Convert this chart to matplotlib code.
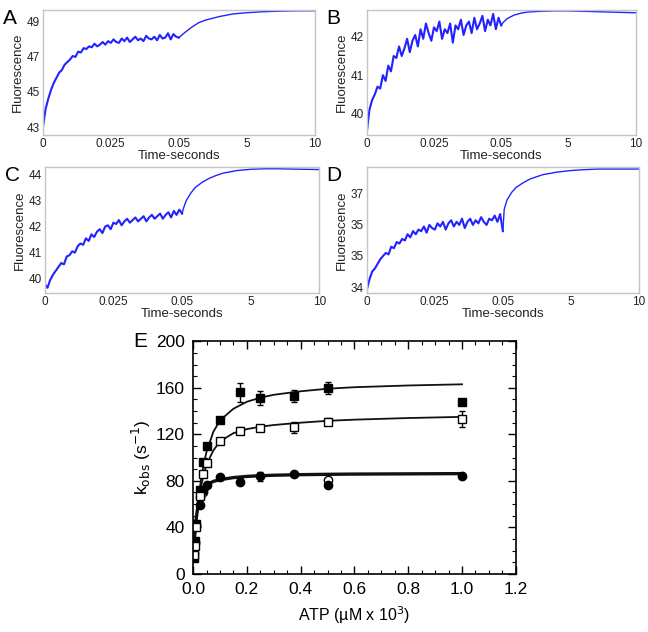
import numpy as np
import matplotlib
matplotlib.use("Agg")
import matplotlib.pyplot as plt
from matplotlib.ticker import MultipleLocator

plt.rcParams['font.family'] = ['Liberation Sans', 'DejaVu Sans']

## stopped-flow traces (fast phase 0-0.05 s, slow phase 0.05-10 s)
fast_A = [42.9, 44.0, 44.6, 45.1, 45.5, 45.8, 46.1, 46.25, 46.55, 46.7, 46.85, 47.05, 47.0, 47.3, 47.25, 47.5,
          47.45, 47.6, 47.55, 47.75, 47.6, 47.7, 47.85, 47.7, 47.9, 47.8, 48.0, 47.85, 47.8, 48.05, 47.9, 48.1,
          47.85, 48.0, 48.15, 47.95, 48.05, 47.9, 48.2, 48.05, 48.0, 48.15, 47.95, 48.25, 48.05, 48.1, 48.35,
          48.0, 48.3, 48.15, 48.1]
fast_B = [39.5, 40.1, 40.35, 40.5, 40.7, 40.65, 41.0, 40.85, 41.25, 41.1, 41.5, 41.45, 41.75, 41.5, 41.7, 41.95,
          41.6, 41.9, 42.05, 41.75, 42.2, 41.95, 42.35, 42.1, 41.9, 42.25, 42.15, 42.4, 41.95, 42.2, 42.1, 42.35,
          41.85, 42.3, 42.2, 42.45, 42.05, 42.3, 42.4, 42.1, 42.5, 42.2, 42.35, 42.55, 42.15, 42.45, 42.3, 42.6,
          42.2, 42.5, 42.3]
fast_C = [39.8, 39.65, 39.95, 40.15, 40.3, 40.45, 40.6, 40.55, 40.85, 40.9, 41.05, 41.0, 41.25, 41.35, 41.3,
          41.55, 41.45, 41.7, 41.6, 41.8, 41.9, 41.75, 42.0, 42.05, 41.9, 42.15, 42.1, 42.25, 42.05, 42.2, 42.3,
          42.15, 42.25, 42.35, 42.2, 42.3, 42.4, 42.2, 42.35, 42.45, 42.3, 42.4, 42.5, 42.3, 42.45, 42.55, 42.35,
          42.6, 42.45, 42.65, 42.5]
fast_D = [33.9, 34.25, 34.5, 34.6, 34.75, 34.9, 35.0, 35.1, 35.05, 35.3, 35.25, 35.45, 35.4, 35.55, 35.5, 35.7,
          35.6, 35.8, 35.7, 35.85, 35.8, 35.95, 35.75, 36.0, 35.9, 35.85, 36.05, 35.95, 36.1, 35.85, 36.05, 36.15,
          35.95, 36.1, 36.0, 36.2, 35.9, 36.1, 36.2, 36.0, 36.15, 36.05, 36.25, 36.1, 36.0, 36.2, 36.15, 36.3,
          36.1, 36.35, 35.8]

slow_t_AB = [0.05, 0.2, 0.5, 1, 1.5, 2, 3, 4, 5, 6, 7, 8, 9, 10]
slow_A = [48.1, 48.2, 48.4, 48.7, 48.95, 49.1, 49.3, 49.45, 49.52, 49.57, 49.6, 49.62, 49.63, 49.63]
slow_B = [42.3, 42.38, 42.48, 42.57, 42.62, 42.65, 42.67, 42.68, 42.68, 42.67, 42.66, 42.65, 42.64, 42.63]
slow_t_CD = [0.05, 0.15, 0.35, 0.7, 1.0, 1.5, 2.0, 2.5, 3, 4, 5, 6, 7, 8, 9, 10]
slow_C = [42.5, 42.7, 43.0, 43.3, 43.5, 43.7, 43.85, 43.96, 44.05, 44.15, 44.2, 44.22, 44.22, 44.21, 44.2, 44.19]
slow_D = [35.8, 36.5, 36.8, 37.05, 37.2, 37.35, 37.47, 37.55, 37.62, 37.7, 37.75, 37.78, 37.8, 37.8, 37.8, 37.8]

time_ticks = [0, 0.025, 0.05, 5, 10]
time_labels = ['0', '0.025', '0.05', '5', '10']

## panel E: kobs vs ATP
atp = [0.005, 0.007, 0.012, 0.025, 0.035, 0.05, 0.1, 0.175, 0.25, 0.375, 0.5, 1.0]
k_fsq = [14, 28, 43, 72, 96, 110, 132, 156, 151, 153, 160, 148]
e_fsq = [0, 0, 0, 0, 0, 0, 0, 8, 6, 5, 5, 2]
k_osq = [16, 24, 40, 67, 86, 95, 114, 123, 125, 126, 131, 133]
e_osq = [0, 0, 0, 0, 0, 0, 0, 3, 2, 5, 3, 7]
k_fci = [18, 27, 42, 59, 72, 76, 83, 79, 84, 86, 76, 84]
e_fci = [0, 0, 0, 0, 0, 0, 2, 3, 4, 2, 0, 0]
atp_oci = [0.025, 0.035, 0.5]
k_oci = [66, 70, 81]

fit_x = [0, 0.005, 0.01, 0.02, 0.03, 0.04, 0.05, 0.075, 0.1, 0.15, 0.2, 0.25, 0.3, 0.4, 0.5, 0.6, 0.8, 1.0]
fit_top = [12, 28, 42, 65, 82, 95, 105, 122, 132, 142, 148, 151.5, 154, 157, 159.2, 160.5, 162, 163]
fit_mid = [12, 28, 42, 62, 76, 86, 94, 106, 114, 121, 124.5, 126.5, 128, 130, 131.6, 132.6, 134, 135]
fit_bot = [12, 30, 45, 62, 70, 74, 76.5, 79.5, 81, 82.8, 83.8, 84.4, 84.8, 85.3, 85.6, 85.8, 86, 86.2]


def fwd(t):
    t = np.asarray(t, dtype=float)
    return np.where(t <= 0.05, t / 0.025, 2 + 2 * (t - 0.05) / 9.95)


def inv(u):
    u = np.asarray(u, dtype=float)
    return np.where(u <= 2, u * 0.025, 0.05 + (u - 2) * 9.95 / 2)


def trace_panel(fig, rect, letter, fast, slow_t, slow, ylim, yticks, ylabels=None):
    ax = fig.add_axes(rect)
    ax.set_xscale('function', functions=(fwd, inv))
    tf = np.linspace(0, 0.05, len(fast))
    ax.plot(tf, fast, color='#2222ff', lw=1.5)
    ax.plot(slow_t, slow, color='#2222ff', lw=1.0)
    ax.set_xlim(0, 10)
    ax.set_ylim(*ylim)
    ax.set_xticks(time_ticks)
    ax.set_xticklabels(time_labels)
    ax.set_yticks(yticks)
    if ylabels is not None:
        ax.set_yticklabels(ylabels)
    ax.tick_params(length=0, labelsize=8.5, pad=2, colors='#222222')
    ax.minorticks_off()
    for s in ax.spines.values():
        s.set_color('#c4c4c4')
        s.set_linewidth(1.0)
    ax.set_xlabel('Time-seconds', fontsize=9.5, labelpad=0, color='#222222')
    ax.set_ylabel('Fluorescence', fontsize=9.5, labelpad=2, color='#222222')
    fig.text(rect[0] - 0.062, rect[1] + rect[3] + 0.002, letter, fontsize=15, va='top', ha='left')
    return ax


def main():
    fig = plt.figure(figsize=(6.48, 6.32), dpi=100)

    trace_panel(fig, [0.066, 0.786, 0.420, 0.198], 'A', fast_A, slow_t_AB, slow_A,
                (42.53, 49.67), [43, 45, 47, 49])
    trace_panel(fig, [0.566, 0.786, 0.415, 0.198], 'B', fast_B, slow_t_AB, slow_B,
                (39.43, 42.70), [40, 41, 42])
    trace_panel(fig, [0.069, 0.536, 0.424, 0.199], 'C', fast_C, slow_t_CD, slow_C,
                (39.44, 44.27), [40, 41, 42, 43, 44])
    trace_panel(fig, [0.566, 0.536, 0.420, 0.199], 'D', fast_D, slow_t_CD, slow_D,
                (33.8, 37.85), [34, 35, 36, 37], ['34', '35', '35', '37'])

    ## panel E
    ax = fig.add_axes([0.298, 0.092, 0.498, 0.368])
    ax.plot(fit_x, fit_top, color='#111111', lw=1.3)
    ax.plot(fit_x, fit_mid, color='#111111', lw=1.3)
    ax.plot(fit_x, fit_bot, color='#111111', lw=2.4)
    ms = 6
    ax.errorbar(atp, k_fci, yerr=e_fci, fmt='o', color='black', ms=ms, capsize=2.5, elinewidth=1)
    ax.errorbar(atp, k_fsq, yerr=e_fsq, fmt='s', color='black', ms=ms, capsize=2.5, elinewidth=1)
    ax.errorbar(atp, k_osq, yerr=e_osq, fmt='s', color='black', mfc='white', ms=ms, capsize=2.5, elinewidth=1)
    ax.plot(atp_oci, k_oci, 'o', color='black', mfc='white', ms=ms)
    ax.set_xlim(0, 1.2)
    ax.set_ylim(0, 200)
    ax.xaxis.set_major_locator(MultipleLocator(0.2))
    ax.xaxis.set_minor_locator(MultipleLocator(0.05))
    ax.yaxis.set_major_locator(MultipleLocator(40))
    ax.yaxis.set_minor_locator(MultipleLocator(10))
    ax.set_xticklabels(['%.1f' % v for v in ax.get_xticks()])
    ax.tick_params(which='both', top=True, right=True, direction='in', labelsize=12.5, pad=6)
    ax.tick_params(which='major', length=6, width=1)
    ax.tick_params(which='minor', length=3, width=0.8)
    for s in ax.spines.values():
        s.set_linewidth(1.2)
    ax.set_xlabel('ATP (\u00b5M x 10$^3$)', fontsize=11.5, labelpad=5)
    ax.set_ylabel(r'k$_{\mathrm{obs}}$ (s$^{-1}$)', fontsize=12.5, labelpad=2)
    fig.text(0.205, 0.475, 'E', fontsize=15, va='top', ha='left')

    fig.savefig('out.png', dpi=100)


if __name__ == "__main__":
    main()
